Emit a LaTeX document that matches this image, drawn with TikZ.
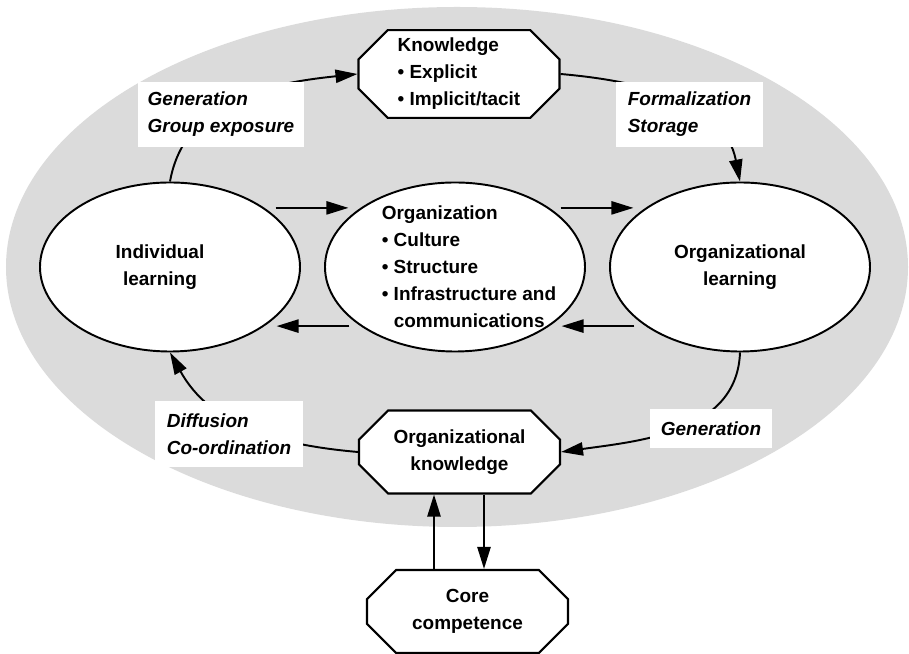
\documentclass[tikz,border=0pt]{standalone}
\usepackage{fontspec}
\setmainfont{Liberation Sans}
\usetikzlibrary{shapes.geometric,shapes.misc,arrows.meta}
\definecolor{bggray}{gray}{0.86}
\newcommand{\figfont}{\fontsize{10.8}{15.4}\selectfont\bfseries}
\tikzset{
  lrn/.style={ellipse,draw,fill=white,line width=1.1pt,minimum width=5.2cm,minimum height=3.38cm,align=center,font=\figfont},
  octa/.style={chamfered rectangle,chamfered rectangle xsep=0.46cm,draw,fill=white,line width=1.2pt,inner ysep=1pt,minimum width=4.02cm,minimum height=1.66cm,align=center,font=\figfont},
  lbl/.style={fill=white,inner sep=0pt,align=left,font=\figfont\itshape},
  flow/.style={line width=1.1pt},
}
\begin{document}
\begin{tikzpicture}[>={Triangle[length=12.5pt,width=7.5pt]}]
    \useasboundingbox (0,0) rectangle (18.18,13.08);
    \fill[bggray] (9.14,7.74) ellipse [x radius=9.02, y radius=5.2];

    \node[lrn, label={[align=center,font=\figfont,xshift=-0.2cm]center:Individual\\learning}] (ind) at (3.4,7.74) {};
    \node[lrn, label={[align=left,font=\figfont,xshift=0.28cm]center:Organization\\\textbullet\ Culture\\\textbullet\ Structure\\\textbullet\ Infrastructure and\\\phantom{\textbullet\ }communications}] (org) at (9.1,7.74) {};
    \node[lrn] (ol) at (14.8,7.74) {Organizational\\learning};
    \node[octa, align=left] (know) at (9.18,11.6) {Knowledge\\\textbullet\ Explicit\\\textbullet\ Implicit/tacit};
    \node[octa] (ok) at (9.19,4.04) {Organizational\\knowledge};
    \node[octa] (core) at (9.35,0.85) {Core\\competence};

    % arrows between the learning ellipses
    \draw[flow,->,shorten <=0.22cm,shorten >=0.24cm] (ind.32) -- (org.148);
    \draw[flow,->,shorten <=0.22cm,shorten >=0.24cm] (org.32) -- (ol.148);
    \draw[flow,->,shorten <=0.22cm,shorten >=0.24cm] (ol.212) -- (org.328);
    \draw[flow,->,shorten <=0.22cm,shorten >=0.24cm] (org.212) -- (ind.328);

    % outer cycle
    \draw[flow,->] (ind.north) to[out=80,in=186] (know.west);
    \draw[flow,->] (know.east) to[out=-5,in=101] (ol.north);
    \draw[flow,->] (ol.south) to[out=-92,in=8] (ok.east);
    \draw[flow,->] (ok.west) to[out=175,in=-61] (ind.south);

    % core competence
    \draw[flow,->] ([xshift=-0.67cm]core.north) -- ([xshift=-0.67cm]core.north |- ok.south);
    \draw[flow,->] ([xshift=0.49cm]ok.south) -- ([xshift=0.49cm]ok.south |- core.north);

    % labels on the cycle
    \node[lbl, minimum width=3.32cm, minimum height=1.30cm] (gen) at (4.42,10.79) {Generation\\Group exposure};
    \node[lbl, minimum width=2.94cm, minimum height=1.30cm] (form) at (13.79,10.79) {Formalization\\Storage};
    \node[lbl, minimum width=2.96cm, minimum height=1.32cm] (diff) at (4.58,4.40) {Diffusion\\Co-ordination};
    \node[lbl, minimum width=2.44cm, minimum height=0.78cm] (gen2) at (14.22,4.51) {Generation};
\end{tikzpicture}
\end{document}
